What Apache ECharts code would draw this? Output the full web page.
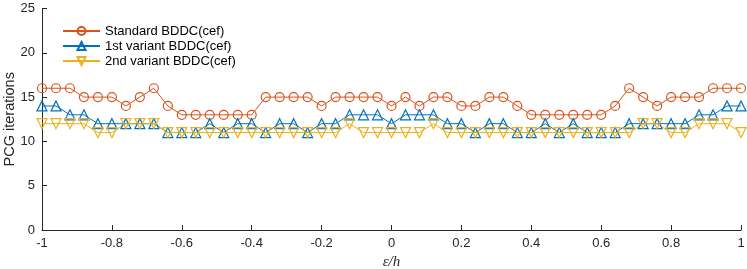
<!DOCTYPE html>
<html>
<head>
<meta charset="utf-8">
<script src="https://cdn.jsdelivr.net/npm/echarts@6/dist/echarts.min.js"></script>
<style>
html,body{margin:0;padding:0;background:#fff;}
#c{width:747px;height:269px;}
</style>
</head>
<body>
<div id="c"></div>
<script>
var xValues = [-1,-0.96,-0.92,-0.88,-0.84,-0.8,-0.76,-0.72,-0.68,-0.64,-0.6,-0.56,-0.52,-0.48,-0.44,-0.4,-0.36,-0.32,-0.28,-0.24,-0.2,-0.16,-0.12,-0.08,-0.04,0,0.04,0.08,0.12,0.16,0.2,0.24,0.28,0.32,0.36,0.4,0.44,0.48,0.52,0.56,0.6,0.64,0.68,0.72,0.76,0.8,0.84,0.88,0.92,0.96,1];
var standard = [16,16,16,15,15,15,14,15,16,14,13,13,13,13,13,13,15,15,15,15,14,15,15,15,15,14,15,14,15,15,14,14,15,15,14,13,13,13,13,13,13,14,16,15,14,15,15,15,16,16,16];
var variant1 = [14,14,13,13,12,12,12,12,12,11,11,11,12,11,12,12,11,12,12,11,12,12,13,13,13,12,13,13,13,12,12,11,12,12,11,11,12,11,12,11,11,11,12,12,12,12,12,13,13,14,14];
var variant2 = [12,12,12,12,11,11,12,12,12,11,11,11,11,11,11,11,11,11,11,11,11,11,12,11,11,11,11,11,12,11,11,11,11,11,11,11,11,11,11,11,11,11,11,12,12,11,11,12,12,12,11];
var seriesNames = ['Standard BDDC(cef)','1st variant BDDC(cef)','2nd variant BDDC(cef)'];
var yTicks = [0,5,10,15,20,25];

function pairs(ys){ return xValues.map(function(x,i){ return [x, ys[i]]; }); }

var colors = ['#D95319','#0072BD','#EDB120'];
var axisColor = '#262626';
var font = 'Liberation Sans, Arial, Helvetica, sans-serif';

function mk(name, data, color, symbol, rotate){
  return {
    name: name, type: 'line', data: pairs(data),
    symbol: symbol, symbolSize: symbol === 'circle' ? 9 : 10, symbolRotate: rotate || 0,
    showAllSymbol: true,
    lineStyle: {color: color, width: 1},
    itemStyle: {color: 'rgba(0,0,0,0)', borderColor: color, borderWidth: 1.2},
    emphasis: {disabled: true},
    animation: false
  };
}

var chart = echarts.init(document.getElementById('c'), null, {renderer: 'canvas'});
chart.setOption({
  animation: false,
  backgroundColor: '#fff',
  grid: {left: 42, right: 6, top: 8.5, bottom: 39, containLabel: false, outerBoundsMode: 'none'},
  legend: {
    orient: 'vertical', left: 62, top: 23.5, padding: 0,
    itemWidth: 37, itemHeight: 10, itemGap: 0,
    textStyle: {fontFamily: font, fontSize: 13, color: '#000', lineHeight: 15},
    data: seriesNames.map(function(n){ return {name: n}; }),
    selectedMode: false
  },
  xAxis: {
    type: 'value', min: -1, max: 1, interval: 0.2,
    name: 'ε/h', nameLocation: 'middle', nameGap: 25, nameMoveOverlap: false,
    nameTextStyle: {fontFamily: 'Liberation Serif, DejaVu Serif, serif', fontStyle: 'italic', fontSize: 15, color: axisColor},
    axisLine: {show: true, onZero: false, lineStyle: {color: axisColor, width: 1}},
    axisTick: {show: true, inside: true, length: 5, lineStyle: {color: axisColor}},
    axisLabel: {fontFamily: font, fontSize: 13, color: axisColor, margin: 7},
    splitLine: {show: false}
  },
  yAxis: {
    type: 'value', min: 0, max: 25, interval: 5,
    name: 'PCG iterations', nameLocation: 'middle', nameGap: 25, nameMoveOverlap: false,
    nameTextStyle: {fontFamily: font, fontSize: 14.5, color: axisColor},
    axisLine: {show: true, onZero: false, lineStyle: {color: axisColor, width: 1}},
    axisTick: {show: true, inside: true, length: 5, lineStyle: {color: axisColor}},
    axisLabel: {fontFamily: font, fontSize: 13, color: axisColor, margin: 7,
      formatter: function(v){ return yTicks.indexOf(v) >= 0 ? String(v) : ''; }},
    splitLine: {show: false}
  },
  series: [
    mk(seriesNames[0], standard, colors[0], 'circle'),
    mk(seriesNames[1], variant1, colors[1], 'triangle'),
    mk(seriesNames[2], variant2, colors[2], 'triangle', 180)
  ]
});
</script>
</body>
</html>
